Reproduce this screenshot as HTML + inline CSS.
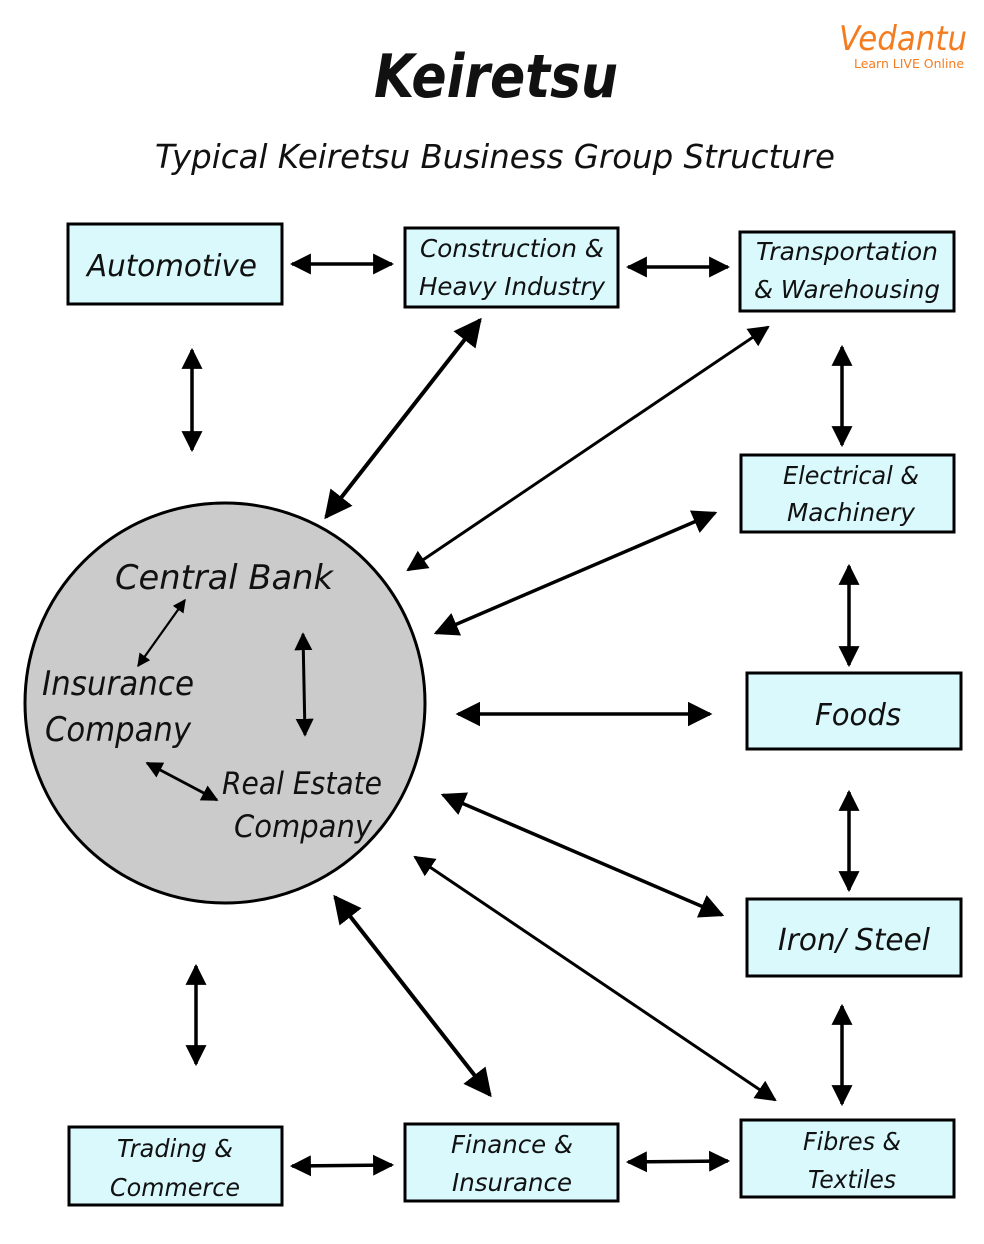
<!DOCTYPE html>
<html><head><meta charset="utf-8"><style>
html,body{margin:0;padding:0;background:#fff;}
svg{display:block;}
text{font-family:"DejaVu Sans","Liberation Sans",sans-serif;font-style:oblique;fill:#111;}
</style></head><body>
<svg width="984" height="1244" viewBox="0 0 984 1244" xmlns="http://www.w3.org/2000/svg">
<defs>
<marker id="a" viewBox="0 0 10 10" refX="9" refY="5" markerWidth="6" markerHeight="6" markerUnits="strokeWidth" orient="auto-start-reverse">
<path d="M0,0 L10,5 L0,10 z" fill="#000"/></marker>
<marker id="b" viewBox="0 0 10 10" refX="9" refY="5" markerWidth="7" markerHeight="7" markerUnits="strokeWidth" orient="auto-start-reverse">
<path d="M0,0 L10,5 L0,10 z" fill="#000"/></marker>
</defs>
<text x="496" y="97" text-anchor="middle" font-size="60" font-weight="bold" textLength="244" lengthAdjust="spacingAndGlyphs">Keiretsu</text>
<text x="495" y="168" text-anchor="middle" font-size="33" textLength="680" lengthAdjust="spacingAndGlyphs">Typical Keiretsu Business Group Structure</text>
<text x="903" y="50" text-anchor="middle" font-size="34" fill="#f47c20" style="fill:#f47c20;font-style:italic" textLength="128" lengthAdjust="spacingAndGlyphs">Vedantu</text>
<text x="909" y="68" text-anchor="middle" font-size="12" style="fill:#f47c20;font-style:normal" textLength="110" lengthAdjust="spacingAndGlyphs">Learn LIVE Online</text>

<circle cx="225" cy="703" r="200" fill="#cbcbcb" stroke="#000" stroke-width="3"/>

<g fill="#d9f9fd" stroke="#000" stroke-width="3">
<rect x="68" y="224" width="214" height="80"/>
<rect x="405" y="228" width="213" height="79"/>
<rect x="740" y="232" width="214" height="79"/>
<rect x="741" y="455" width="213" height="77"/>
<rect x="747" y="673" width="214" height="76"/>
<rect x="747" y="899" width="214" height="77"/>
<rect x="741" y="1120" width="213" height="77"/>
<rect x="69" y="1127" width="213" height="78"/>
<rect x="405" y="1124" width="213" height="77"/>
</g>

<g stroke="#000" stroke-width="3.5" fill="none">
<line x1="292" y1="264" x2="392" y2="264" marker-start="url(#a)" marker-end="url(#a)"/>
<line x1="628" y1="267" x2="728" y2="267" marker-start="url(#a)" marker-end="url(#a)"/>
<line x1="192" y1="350" x2="192" y2="450" marker-start="url(#a)" marker-end="url(#a)"/>
<line x1="842" y1="347" x2="842" y2="445" marker-start="url(#a)" marker-end="url(#a)"/>
<line x1="849" y1="566" x2="849" y2="665" marker-start="url(#a)" marker-end="url(#a)"/>
<line x1="849" y1="792" x2="849" y2="890" marker-start="url(#a)" marker-end="url(#a)"/>
<line x1="842" y1="1006" x2="842" y2="1104" marker-start="url(#a)" marker-end="url(#a)"/>
<line x1="196" y1="966" x2="196" y2="1064" marker-start="url(#a)" marker-end="url(#a)"/>
<line x1="292" y1="1166" x2="392" y2="1165" marker-start="url(#a)" marker-end="url(#a)"/>
<line x1="628" y1="1162" x2="728" y2="1161" marker-start="url(#a)" marker-end="url(#a)"/>
<line x1="480" y1="320" x2="326" y2="517" marker-start="url(#b)" marker-end="url(#b)" stroke-width="4"/>
<line x1="768" y1="327" x2="408" y2="570" marker-start="url(#b)" marker-end="url(#b)" stroke-width="3"/>
<line x1="715" y1="513" x2="436" y2="633" marker-start="url(#b)" marker-end="url(#b)" stroke-width="3.5"/>
<line x1="458" y1="714" x2="710" y2="714" marker-start="url(#b)" marker-end="url(#b)" stroke-width="3.5"/>
<line x1="443" y1="795" x2="722" y2="915" marker-start="url(#b)" marker-end="url(#b)" stroke-width="3.5"/>
<line x1="415" y1="857" x2="775" y2="1100" marker-start="url(#b)" marker-end="url(#b)" stroke-width="3"/>
<line x1="335" y1="897" x2="490" y2="1095" marker-start="url(#b)" marker-end="url(#b)" stroke-width="4"/>
<line x1="185" y1="600" x2="138" y2="666" marker-start="url(#a)" marker-end="url(#a)" stroke-width="2.2"/>
<line x1="303" y1="634" x2="305" y2="735" marker-start="url(#a)" marker-end="url(#a)" stroke-width="3"/>
<line x1="147" y1="763" x2="217" y2="800" marker-start="url(#a)" marker-end="url(#a)" stroke-width="2.8"/>
</g>

<g font-size="30" text-anchor="middle">
<text x="172" y="276" textLength="170" lengthAdjust="spacingAndGlyphs">Automotive</text>
<text x="858" y="725" textLength="86" lengthAdjust="spacingAndGlyphs">Foods</text>
<text x="854" y="950" textLength="152" lengthAdjust="spacingAndGlyphs">Iron/ Steel</text>
</g>
<g font-size="25" text-anchor="middle">
<text x="512" y="257" textLength="184" lengthAdjust="spacingAndGlyphs">Construction &amp;</text>
<text x="512" y="295" textLength="186" lengthAdjust="spacingAndGlyphs">Heavy Industry</text>
<text x="847" y="260" textLength="182" lengthAdjust="spacingAndGlyphs">Transportation</text>
<text x="847" y="298" textLength="186" lengthAdjust="spacingAndGlyphs">&amp; Warehousing</text>
<text x="851" y="484" textLength="136" lengthAdjust="spacingAndGlyphs">Electrical &amp;</text>
<text x="851" y="521" textLength="128" lengthAdjust="spacingAndGlyphs">Machinery</text>
<text x="852" y="1150" textLength="98" lengthAdjust="spacingAndGlyphs">Fibres &amp;</text>
<text x="852" y="1188" textLength="88" lengthAdjust="spacingAndGlyphs">Textiles</text>
<text x="175" y="1157" textLength="116" lengthAdjust="spacingAndGlyphs">Trading &amp;</text>
<text x="175" y="1196" textLength="130" lengthAdjust="spacingAndGlyphs">Commerce</text>
<text x="512" y="1153" textLength="122" lengthAdjust="spacingAndGlyphs">Finance &amp;</text>
<text x="512" y="1191" textLength="120" lengthAdjust="spacingAndGlyphs">Insurance</text>
</g>
<g font-size="34">
<text x="115" y="589" textLength="218" lengthAdjust="spacingAndGlyphs">Central Bank</text>
<text x="42" y="695" textLength="152" lengthAdjust="spacingAndGlyphs">Insurance</text>
<text x="45" y="741" textLength="146" lengthAdjust="spacingAndGlyphs">Company</text>
</g>
<g font-size="31">
<text x="222" y="794" textLength="160" lengthAdjust="spacingAndGlyphs">Real Estate</text>
<text x="234" y="837" textLength="138" lengthAdjust="spacingAndGlyphs">Company</text>
</g>
</svg>
</body></html>
